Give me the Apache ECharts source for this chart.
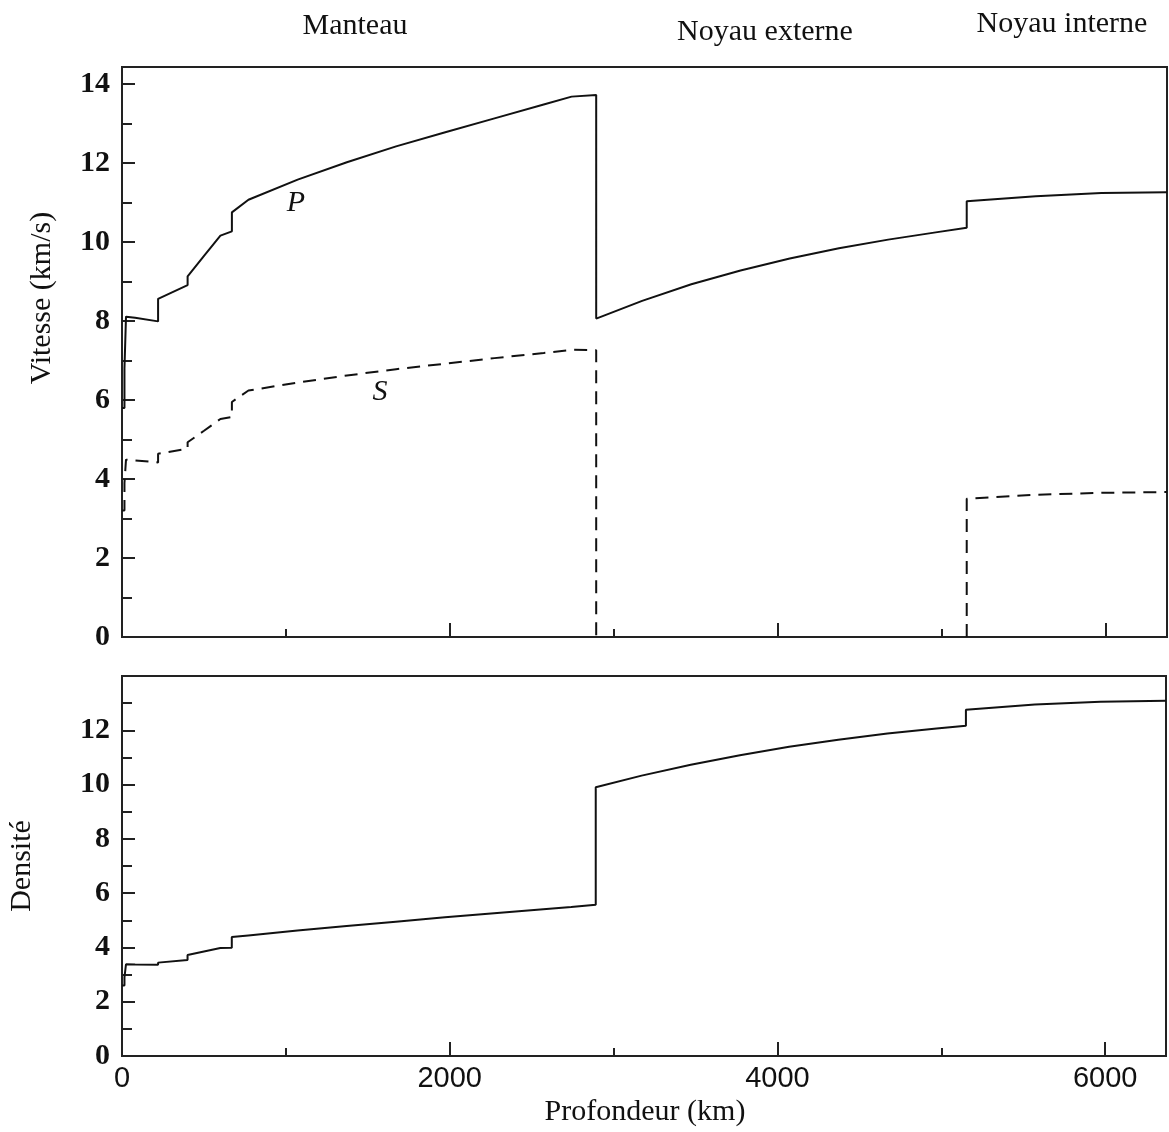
<!DOCTYPE html>
<html>
<head>
<meta charset="utf-8">
<script src="https://cdn.jsdelivr.net/npm/echarts@6/dist/echarts.min.js"></script>
<style>
  html, body { margin: 0; padding: 0; background: #fff; }
  #main { width: 1169px; height: 1132px; }
</style>
</head>
<body>
<div id="main"></div>
<script>
// profondeur (km) commune a P et a la densite
var depthKm = [0, 15, 15, 24.4, 24.4, 80, 220, 220, 400, 400, 500, 600, 670, 670, 771,
    1071, 1371, 1671, 1971, 2271, 2571, 2741, 2891, 2891, 3171, 3471, 3771, 4071,
    4371, 4671, 4971, 5150, 5150, 5571, 5971, 6371];
var vitesseP = [5.80, 5.80, 6.80, 6.80, 8.11, 8.08, 7.99, 8.56, 8.91, 9.13, 9.65, 10.16, 10.27, 10.75, 11.07,
    11.58, 12.02, 12.42, 12.78, 13.13, 13.48, 13.68, 13.72, 8.06, 8.51, 8.93, 9.28, 9.58,
    9.84, 10.06, 10.25, 10.36, 11.03, 11.16, 11.24, 11.26];
var densite = [2.60, 2.60, 2.90, 2.90, 3.38, 3.37, 3.36, 3.44, 3.54, 3.72, 3.85, 3.98, 3.99, 4.38, 4.44,
    4.62, 4.79, 4.95, 5.11, 5.26, 5.41, 5.49, 5.57, 9.90, 10.33, 10.73, 11.08, 11.39,
    11.65, 11.88, 12.07, 12.17, 12.76, 12.95, 13.05, 13.09];

// onde S : nulle dans le noyau externe ('-' = coupure)
var depthS = [0, 15, 15, 24.4, 24.4, 80, 220, 220, 400, 400, 500, 600, 670, 670, 771,
    1071, 1371, 1671, 1971, 2271, 2571, 2741, 2891, 2891, 4000, 5150, 5150, 5571, 5971, 6371];
var vitesseS = [3.20, 3.20, 3.90, 3.90, 4.49, 4.47, 4.42, 4.64, 4.77, 4.93, 5.22, 5.52, 5.57, 5.95, 6.24,
    6.44, 6.62, 6.78, 6.92, 7.06, 7.19, 7.27, 7.26, 0, '-', 0, 3.50, 3.60, 3.65, 3.67];

var xMax = 6371;
var serif = '"Liberation Serif", "Times New Roman", serif';
var sans = '"Liberation Sans", Arial, sans-serif';

function zip(xs, ys) {
    var out = [];
    for (var i = 0; i < xs.length; i++) out.push([xs[i], ys[i]]);
    return out;
}

function xAxisCfg(grid, interval, len, labels) {
    return {
        type: 'value', gridIndex: grid, position: 'bottom',
        min: 0, max: xMax, interval: interval,
        axisLine: { show: interval === 2000, onZero: false, lineStyle: { color: '#222', width: 2 } },
        axisTick: { show: true, inside: true, length: len, lineStyle: { color: '#222', width: 2 } },
        axisLabel: {
            show: labels, margin: 8, color: '#111', fontFamily: sans, fontSize: 29,
            formatter: function (v) { return (v % 2000 === 0) ? String(v) : ''; }
        },
        splitLine: { show: false }
    };
}

// lastLabel : plus grande valeur etiquetee
function yAxisCfg(grid, max, interval, len, labels, lastLabel) {
    return {
        type: 'value', gridIndex: grid, position: 'left',
        min: 0, max: max, interval: interval,
        axisLine: { show: interval === 2, onZero: false, lineStyle: { color: '#222', width: 2 } },
        axisTick: { show: true, inside: true, length: len, lineStyle: { color: '#222', width: 2 } },
        axisLabel: {
            show: labels, margin: 12, color: '#111', fontFamily: serif, fontSize: 30, fontWeight: 'bold',
            formatter: function (v) { return (v % 2 === 0 && v <= lastLabel) ? String(v) : ''; }
        },
        splitLine: { show: false }
    };
}

function txt(text, x, y, size, opts) {
    opts = opts || {};
    return {
        type: 'text', x: x, y: y, rotation: opts.rot || 0,
        style: {
            text: text, fill: '#111',
            font: (opts.italic ? 'italic ' : '') + size + 'px ' + serif,
            textAlign: 'center', textVerticalAlign: 'middle'
        }
    };
}

var myChart = echarts.init(document.getElementById('main'));
var option = {
    animation: false,
    backgroundColor: '#fff',
    grid: [
        { left: 122, top: 67, width: 1045, height: 570, show: true, borderColor: '#222', borderWidth: 2 },
        { left: 122, top: 676, width: 1045, height: 380, show: true, borderColor: '#222', borderWidth: 2 }
    ],
    xAxis: [
        xAxisCfg(0, 2000, 14, false),
        xAxisCfg(0, 1000, 8, false),
        xAxisCfg(1, 2000, 14, true),
        xAxisCfg(1, 1000, 8, false)
    ],
    yAxis: [
        yAxisCfg(0, 14.43, 2, 13, true, 14),
        yAxisCfg(0, 14.43, 1, 10, false, 14),
        yAxisCfg(1, 14, 2, 13, true, 12),
        yAxisCfg(1, 14, 1, 10, false, 12)
    ],
    graphic: [
        txt('Manteau', 355, 26, 30),
        txt('Noyau externe', 765, 32, 30),
        txt('Noyau interne', 1062, 24, 30),
        txt('Vitesse (km/s)', 42, 298, 30, { rot: Math.PI / 2 }),
        txt('Densité', 22, 866, 30, { rot: Math.PI / 2 }),
        txt('Profondeur (km)', 645, 1112, 30),
        txt('P', 296, 203, 30, { italic: true }),
        txt('S', 380, 392, 30, { italic: true })
    ],
    series: [
        {
            name: 'P', type: 'line', xAxisIndex: 0, yAxisIndex: 0,
            data: zip(depthKm, vitesseP), showSymbol: false, connectNulls: false,
            lineStyle: { color: '#111', width: 2 }
        },
        {
            name: 'S', type: 'line', xAxisIndex: 0, yAxisIndex: 0,
            data: zip(depthS, vitesseS), showSymbol: false, connectNulls: false,
            lineStyle: { color: '#111', width: 2, type: [13, 8] }
        },
        {
            name: 'Densité', type: 'line', xAxisIndex: 2, yAxisIndex: 2,
            data: zip(depthKm, densite), showSymbol: false,
            lineStyle: { color: '#111', width: 2 }
        }
    ]
};
myChart.setOption(option);
</script>
</body>
</html>
